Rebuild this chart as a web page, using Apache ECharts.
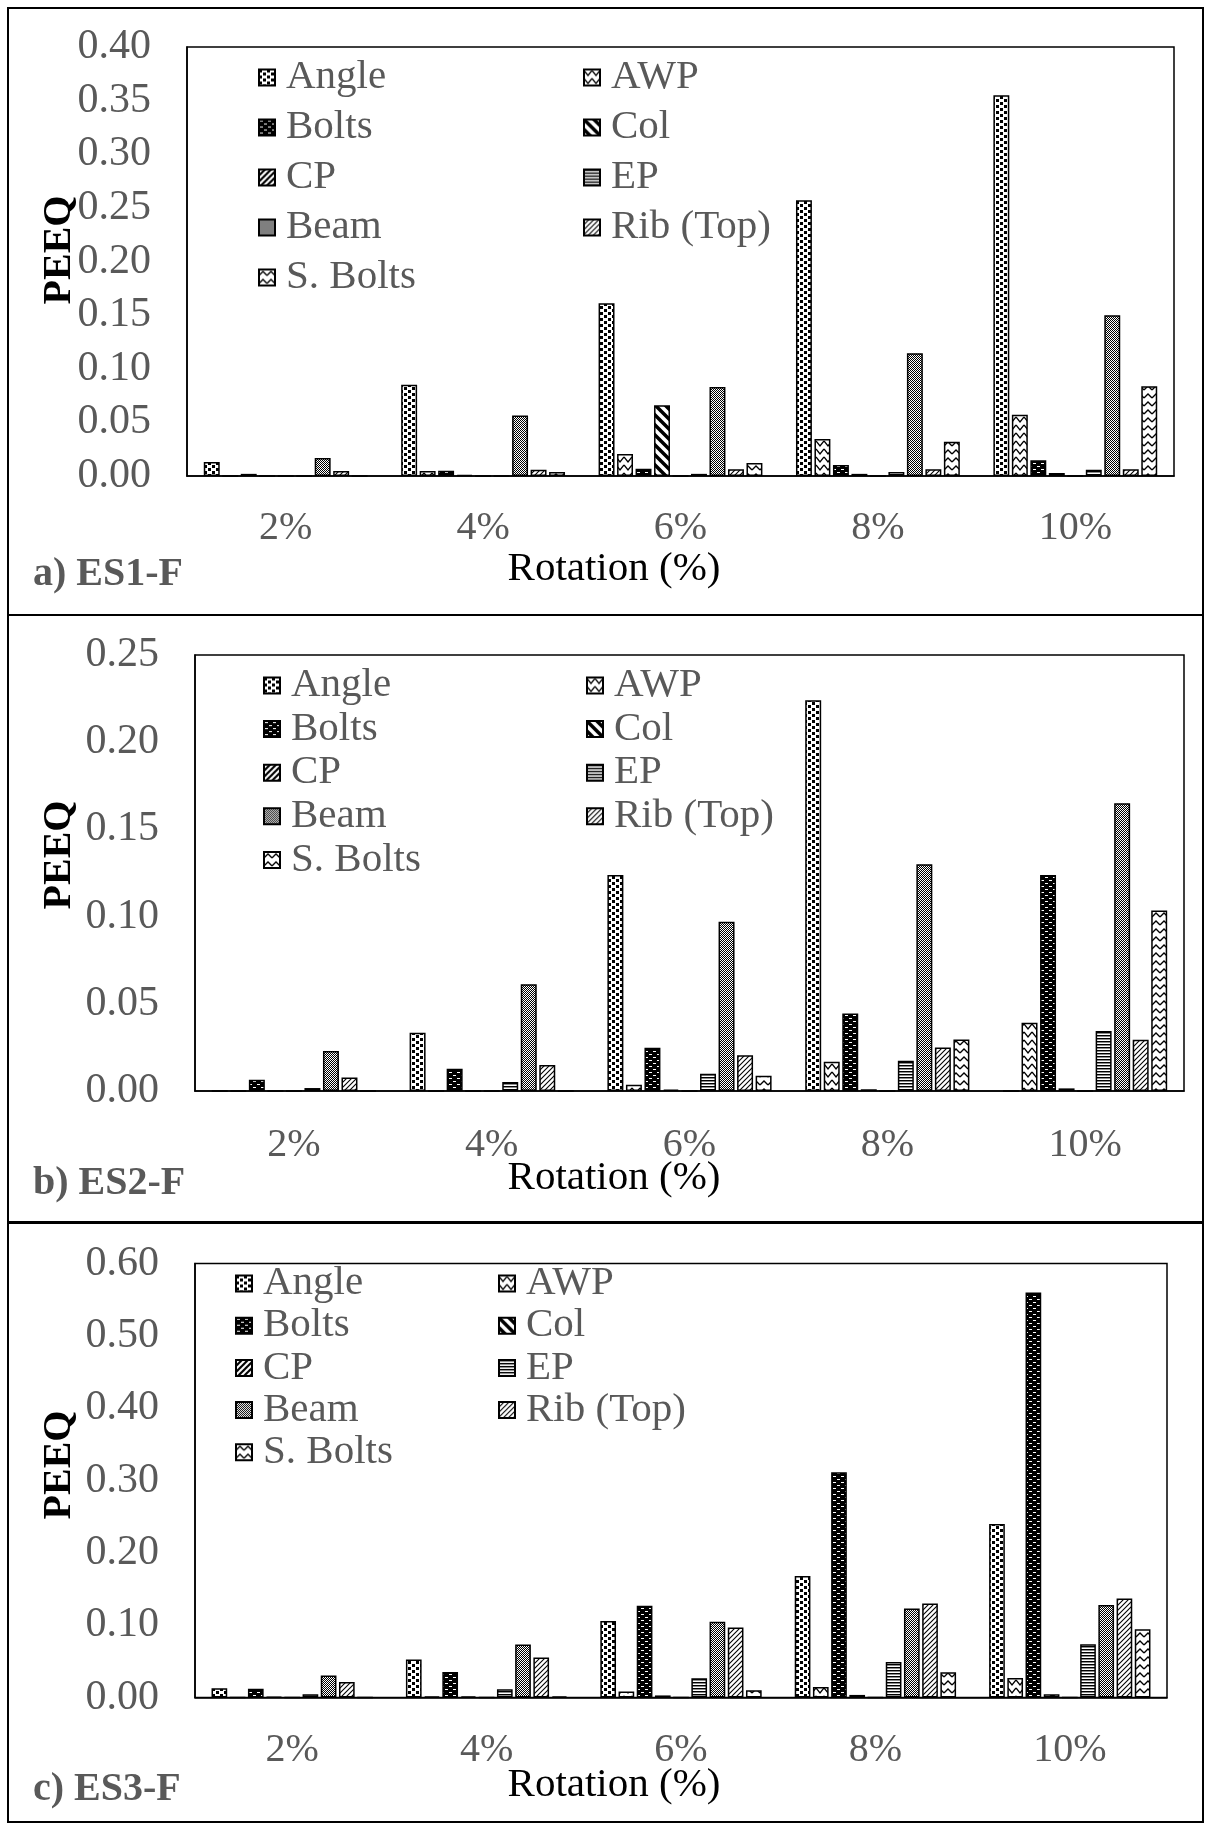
<!DOCTYPE html>
<html>
<head>
<meta charset="utf-8">
<title>PEEQ vs rotation</title>
<script src="https://cdn.jsdelivr.net/npm/echarts@6/dist/echarts.min.js"></script>
<style>
  html, body { margin: 0; padding: 0; background: #fff; }
  .panel { position: absolute; left: 0; width: 1205px; }
</style>
</head>
<body>
<div id="panelA" class="panel" style="top:0;height:615px"></div>
<div id="panelB" class="panel" style="top:615px;height:608px"></div>
<div id="panelC" class="panel" style="top:1223px;height:601px"></div>
<script>
// ---- data ----
const categories = ['2%', '4%', '6%', '8%', '10%'];
const componentNames = ['Angle', 'AWP', 'Bolts', 'Col', 'CP', 'EP', 'Beam', 'Rib (Top)', 'S. Bolts'];

// a) ES1-F
const es1Angle  = [0.013, 0.085, 0.161, 0.257, 0.355];
const es1AWP    = [0, 0.0047, 0.0205, 0.0345, 0.057];
const es1Bolts  = [0.002, 0.005, 0.0068, 0.0103, 0.0146];
const es1Col    = [0, 0.001, 0.066, 0.002, 0.0028];
const es1CP     = [0, 0, 0, 0, 0];
const es1EP     = [0, 0, 0.002, 0.0037, 0.0059];
const es1Beam   = [0.0168, 0.0563, 0.083, 0.1145, 0.150];
const es1Rib    = [0.0047, 0.0059, 0.0062, 0.0062, 0.0062];
const es1SBolts = [0, 0.0037, 0.0121, 0.032, 0.0836];
const es1YTicks = [0.00, 0.05, 0.10, 0.15, 0.20, 0.25, 0.30, 0.35, 0.40];

// b) ES2-F
const es2Angle  = [0, 0.0334, 0.1238, 0.224, 0];
const es2AWP    = [0, 0, 0.0036, 0.0168, 0.0392];
const es2Bolts  = [0.0065, 0.0128, 0.0248, 0.0445, 0.1238];
const es2Col    = [0, 0, 0.0008, 0.001, 0.0015];
const es2CP     = [0, 0, 0, 0, 0];
const es2EP     = [0.0017, 0.0052, 0.0099, 0.0174, 0.0344];
const es2Beam   = [0.0229, 0.0612, 0.097, 0.130, 0.165];
const es2Rib    = [0.0078, 0.0149, 0.0205, 0.025, 0.0294];
const es2SBolts = [0, 0, 0.0088, 0.0296, 0.1035];
const es2YTicks = [0.00, 0.05, 0.10, 0.15, 0.20, 0.25];

// c) ES3-F
const es3Angle  = [0.0129, 0.0525, 0.106, 0.168, 0.240];
const es3AWP    = [0, 0.0015, 0.0083, 0.0147, 0.0272];
const es3Bolts  = [0.0124, 0.0355, 0.127, 0.3115, 0.560];
const es3Col    = [0.001, 0.002, 0.003, 0.0037, 0.0046];
const es3CP     = [0, 0, 0, 0, 0];
const es3EP     = [0.0046, 0.0115, 0.0267, 0.0493, 0.0737];
const es3Beam   = [0.0304, 0.0733, 0.105, 0.123, 0.128];
const es3Rib    = [0.0217, 0.0553, 0.0968, 0.130, 0.137];
const es3SBolts = [0, 0.002, 0.0101, 0.035, 0.0944];
const es3YTicks = [0.00, 0.10, 0.20, 0.30, 0.40, 0.50, 0.60];

// ---- styling ----
const FONT = "'Liberation Serif', 'Times New Roman', serif";
const GREY = '#595959';

function tile(w, h, draw) {
  const c = document.createElement('canvas');
  c.width = w; c.height = h;
  const g = c.getContext('2d');
  g.fillStyle = '#fff'; g.fillRect(0, 0, w, h);
  g.fillStyle = '#000'; g.strokeStyle = '#000';
  draw(g, w, h);
  return { image: c, repeat: 'repeat' };
}
function diag(g, s, lw, down) {
  g.lineWidth = lw;
  g.beginPath();
  for (let k = -2; k <= 2; k++) {
    if (down) { g.moveTo(k * s - s, -s); g.lineTo(k * s + 2 * s, 2 * s); }
    else { g.moveTo(k * s - s, 2 * s); g.lineTo(k * s + 2 * s, -s); }
  }
  g.stroke();
}

// hatch fills for the nine components
const fills = {
  'Angle': tile(8, 6, g => { g.fillRect(0, 0, 3, 3); g.fillRect(4, 3, 3, 3); }),
  'AWP': tile(8, 8, g => { g.lineWidth = 1.3; g.beginPath(); g.moveTo(0, 1); g.lineTo(4, 6); g.lineTo(8, 1); g.stroke(); }),
  'Bolts': tile(8, 6, g => { g.fillRect(0, 0, 8, 6); g.fillStyle = '#fff'; g.fillRect(1, 1, 3, 1); g.fillRect(5, 4, 3, 1); }),
  'Col': tile(10, 10, g => diag(g, 10, 3.5, true)),
  'CP': tile(6, 6, g => diag(g, 6, 2.2, false)),
  'EP': tile(4, 3, g => { g.fillRect(0, 0, 4, 1); g.fillStyle = 'rgba(0,0,0,0.45)'; g.fillRect(0, 1, 4, 1); }),
  'Beam': tile(2, 2, g => { g.fillRect(0, 0, 1, 1); g.fillRect(1, 1, 1, 1); }),
  'Rib (Top)': tile(5, 5, g => diag(g, 5, 1.1, false)),
  'S. Bolts': tile(8, 8, g => { g.lineWidth = 1.3; g.beginPath(); g.moveTo(0, 6); g.lineTo(4, 2); g.lineTo(8, 6); g.stroke(); })
};

function buildPanel(elId, p) {
  const chart = echarts.init(document.getElementById(elId), null, { renderer: 'canvas' });
  const ticks = p.ticks;
  const series = componentNames.map((name, i) => ({
    name,
    type: 'bar',
    data: p.values[i],
    barCategoryGap: '17%',
    barGap: '16%',
    itemStyle: { color: fills[name], borderColor: '#000', borderWidth: 1.5 },
    emphasis: { disabled: true },
    silent: true
  }));
  const legendBase = {
    orient: 'vertical',
    top: p.legendTop,
    icon: 'rect',
    itemWidth: 16,
    itemHeight: 16,
    itemGap: p.legendGap,
    selectedMode: false,
    textStyle: { fontFamily: FONT, fontSize: 41, color: GREY, lineHeight: 41, padding: [0, 0, 0, 6] }
  };
  chart.setOption({
    animation: false,
    backgroundColor: '#fff',
    grid: {
      left: p.grid.left, right: p.grid.right, top: p.grid.top, bottom: p.grid.bottom,
      show: true, borderColor: '#000', borderWidth: 1.5, backgroundColor: 'transparent'
    },
    legend: [
      Object.assign({}, legendBase, { left: p.legendX[0], data: ['Angle', 'Bolts', 'CP', 'Beam', 'S. Bolts'] }),
      Object.assign({}, legendBase, { left: p.legendX[1], data: ['AWP', 'Col', 'EP', 'Rib (Top)'] })
    ],
    xAxis: {
      type: 'category',
      data: categories,
      axisLine: { lineStyle: { color: '#000', width: 1.5 } },
      axisTick: { show: false },
      axisLabel: { fontFamily: FONT, fontSize: 40, color: GREY, margin: p.xLabelMargin }
    },
    yAxis: {
      type: 'value',
      min: ticks[0],
      max: ticks[ticks.length - 1],
      interval: ticks[1] - ticks[0],
      axisLine: { show: true, lineStyle: { color: '#000', width: 1.5 } },
      axisTick: { show: false },
      splitLine: { show: false },
      axisLabel: { fontFamily: FONT, fontSize: 42, color: GREY, margin: 36, formatter: v => v.toFixed(2) }
    },
    series,
    graphic: [
      { type: 'rect', silent: true, shape: p.frame, style: { fill: 'none', stroke: '#000', lineWidth: 2 } },
      { type: 'text', silent: true, x: 60, y: p.peeqY, rotation: Math.PI / 2,
        style: { text: 'PEEQ', fontFamily: FONT, fontSize: 40, fontWeight: 'bold', fill: '#000', align: 'center', verticalAlign: 'middle' } },
      { type: 'text', silent: true, x: 614, y: p.titleY,
        style: { text: 'Rotation (%)', fontFamily: FONT, fontSize: 41, fill: '#000', align: 'center', verticalAlign: 'middle' } },
      { type: 'text', silent: true, x: 33, y: p.tagY,
        style: { text: p.tag, fontFamily: FONT, fontSize: 40, fontWeight: 'bold', fill: GREY, align: 'left', verticalAlign: 'middle' } }
    ]
  });
}

buildPanel('panelA', {
  values: [es1Angle, es1AWP, es1Bolts, es1Col, es1CP, es1EP, es1Beam, es1Rib, es1SBolts],
  ticks: es1YTicks,
  grid: { left: 187, right: 31, top: 47, bottom: 139 },
  legendX: [253, 578], legendTop: 52, legendGap: 9,
  xLabelMargin: 32,
  frame: { x: 8, y: 8, width: 1195, height: 607 },
  peeqY: 250, titleY: 569, tagY: 575, tag: 'a) ES1-F'
});
buildPanel('panelB', {
  values: [es2Angle, es2AWP, es2Bolts, es2Col, es2CP, es2EP, es2Beam, es2Rib, es2SBolts],
  ticks: es2YTicks,
  grid: { left: 195, right: 21, top: 40, bottom: 132 },
  legendX: [258, 581], legendTop: 45, legendGap: 2.6,
  xLabelMargin: 34.5,
  frame: { x: 8, y: 0, width: 1195, height: 607 },
  peeqY: 240, titleY: 563, tagY: 568.5, tag: 'b) ES2-F'
});
buildPanel('panelC', {
  values: [es3Angle, es3AWP, es3Bolts, es3Col, es3CP, es3EP, es3Beam, es3Rib, es3SBolts],
  ticks: es3YTicks,
  grid: { left: 195, right: 38, top: 40.5, bottom: 126.4 },
  legendX: [230, 493], legendTop: 35, legendGap: 1.2,
  xLabelMargin: 32.5,
  frame: { x: 8, y: 0, width: 1195, height: 599 },
  peeqY: 242, titleY: 562, tagY: 566.5, tag: 'c) ES3-F'
});
</script>
</body>
</html>
